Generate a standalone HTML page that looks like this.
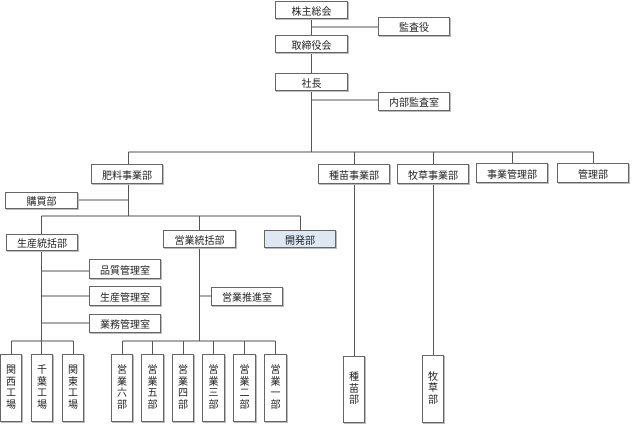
<!DOCTYPE html>
<html><head><meta charset="utf-8"><style>
body{margin:0;background:#fff;}
#c{position:relative;width:640px;height:433px;overflow:hidden;font-family:"Liberation Sans","Noto Sans CJK JP",sans-serif;font-size:10px;color:#222;}
.b{position:absolute;box-sizing:border-box;border:1px solid #666;background:#fff;display:flex;align-items:center;justify-content:center;box-shadow:1px 1px 0 #bbb;}
.v{flex-direction:column;line-height:11.5px;font-size:10px;text-align:center;}
svg{position:absolute;left:0;top:0;}
</style></head><body><div id="c">
<svg width="640" height="433"><g stroke="#555" stroke-width="1" fill="none">
<path d="M311.5 18V73M311.5 27H378M311.5 91V152M311.5 100H378"/>
<path d="M128.5 152H593.5M128.5 152V164M354.5 152V356M433.5 152V355M512.5 152V163M593.5 152V163"/>
<path d="M128.5 184V216M78 200H128.5M41.5 216H300.5M41.5 216V234M199.5 216V230M300.5 216V230"/>
<path d="M41.5 251V341M41.5 271H89M41.5 296H89M41.5 323H89M11.5 341H73.5M11.5 341V354M41.5 341V354M73.5 341V354"/>
<path d="M199.5 248V341M199.5 296H211M122.5 341H275.5M122.5 341V354M152.5 341V354M183.5 341V354M213.5 341V354M244.5 341V354M275.5 341V354"/>
</g></svg>
<div class="b" style="left:275px;top:1px;width:73px;height:18px">株主総会</div>
<div class="b" style="left:378px;top:17px;width:72px;height:19px">監査役</div>
<div class="b" style="left:275px;top:35px;width:73px;height:18px">取締役会</div>
<div class="b" style="left:275px;top:73px;width:73px;height:18px">社長</div>
<div class="b" style="left:378px;top:92px;width:72px;height:19px">内部監査室</div>
<div class="b" style="left:91px;top:164px;width:72px;height:20px">肥料事業部</div>
<div class="b" style="left:318px;top:164px;width:72px;height:20px">種苗事業部</div>
<div class="b" style="left:397px;top:164px;width:72px;height:20px">牧草事業部</div>
<div class="b" style="left:476px;top:163px;width:72px;height:20px">事業管理部</div>
<div class="b" style="left:557px;top:163px;width:72px;height:20px">管理部</div>
<div class="b" style="left:5px;top:192px;width:73px;height:17px">購買部</div>
<div class="b" style="left:6px;top:234px;width:72px;height:17px">生産統括部</div>
<div class="b" style="left:163px;top:230px;width:73px;height:18px">営業統括部</div>
<div class="b" style="left:264px;top:230px;width:72px;height:18px;background:#dde8f4">開発部</div>
<div class="b" style="left:89px;top:259px;width:72px;height:20px">品質管理室</div>
<div class="b" style="left:89px;top:286px;width:72px;height:20px">生産管理室</div>
<div class="b" style="left:89px;top:314px;width:72px;height:19px">業務管理室</div>
<div class="b" style="left:211px;top:287px;width:72px;height:19px">営業推進室</div>
<div class="b v" style="left:0px;top:354px;width:22px;height:68px"><span>関</span><span>西</span><span>工</span><span>場</span></div>
<div class="b v" style="left:31px;top:354px;width:22px;height:68px"><span>千</span><span>葉</span><span>工</span><span>場</span></div>
<div class="b v" style="left:62px;top:354px;width:22px;height:68px"><span>関</span><span>東</span><span>工</span><span>場</span></div>
<div class="b v" style="left:111px;top:354px;width:22px;height:68px"><span>営</span><span>業</span><span>六</span><span>部</span></div>
<div class="b v" style="left:141px;top:354px;width:23px;height:68px"><span>営</span><span>業</span><span>五</span><span>部</span></div>
<div class="b v" style="left:172px;top:354px;width:22px;height:68px"><span>営</span><span>業</span><span>四</span><span>部</span></div>
<div class="b v" style="left:202px;top:354px;width:23px;height:68px"><span>営</span><span>業</span><span>三</span><span>部</span></div>
<div class="b v" style="left:233px;top:354px;width:23px;height:68px"><span>営</span><span>業</span><span>二</span><span>部</span></div>
<div class="b v" style="left:264px;top:354px;width:23px;height:68px"><span>営</span><span>業</span><span>一</span><span>部</span></div>
<div class="b v" style="left:343px;top:356px;width:22px;height:67px"><span>種</span><span>苗</span><span>部</span></div>
<div class="b v" style="left:422px;top:355px;width:22px;height:68px"><span>牧</span><span>草</span><span>部</span></div>
</div></body></html>
